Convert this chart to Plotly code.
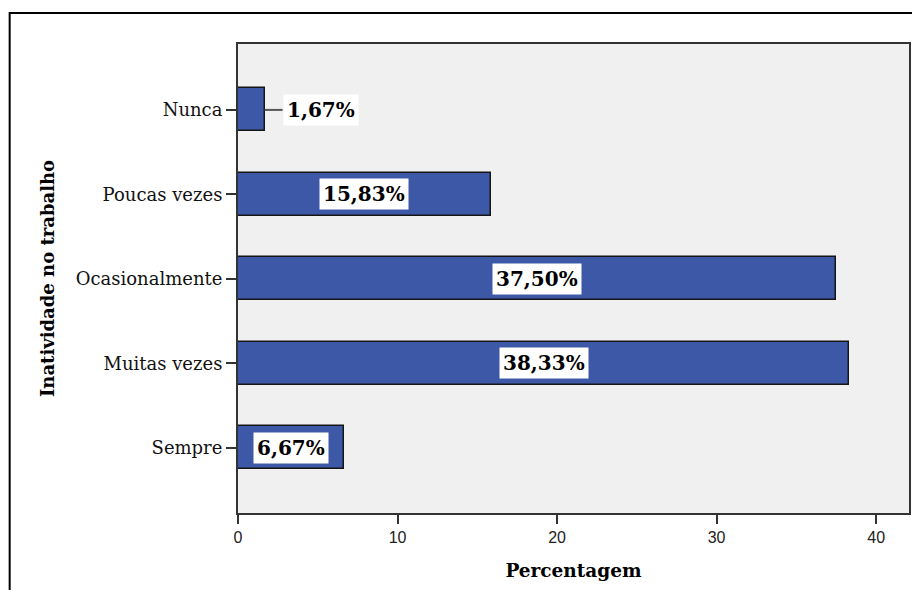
import plotly.graph_objects as go

# Frequência de inatividade no trabalho (percentagem de respondentes)
categorias = ["Nunca", "Poucas vezes", "Ocasionalmente", "Muitas vezes", "Sempre"]
percentagens = [1.67, 15.83, 37.50, 38.33, 6.67]
rotulos = ["1,67%", "15,83%", "37,50%", "38,33%", "6,67%"]
x_ticks = [0, 10, 20, 30, 40]

posicoes = list(range(len(categorias)))

SERIF = "DejaVu Serif, serif"
SANS = "Liberation Sans, Arial, sans-serif"

fig = go.Figure()
fig.add_trace(go.Bar(
    x=percentagens,
    y=posicoes,
    orientation="h",
    width=0.51,
    marker=dict(color="#3E58A8", line=dict(color="#151515", width=1.5)),
    hoverinfo="skip",
    showlegend=False,
))

# Rótulos de valor: centrados na barra, ou fora dela quando a barra é curta
label_font = dict(family=SERIF, size=20, color="#000000", weight="bold")
annotations = []
shapes = []
for pos, val, txt in zip(posicoes, percentagens, rotulos):
    if val < 4:
        annotations.append(dict(
            x=val, y=pos, xref="x", yref="y", text=txt, showarrow=False,
            xanchor="left", xshift=18, font=label_font,
            bgcolor="#FFFFFF", borderpad=3,
        ))
        shapes.append(dict(
            type="line", xref="x", yref="y", x0=val, x1=val + 18 / 16.0,
            y0=pos, y1=pos, line=dict(color="#555555", width=2),
        ))
    else:
        annotations.append(dict(
            x=val / 2, y=pos, xref="x", yref="y", text=txt, showarrow=False,
            xanchor="center", font=label_font,
            bgcolor="#FFFFFF", borderpad=3,
        ))

# Moldura exterior do gráfico
shapes.append(dict(
    type="rect", xref="paper", yref="paper",
    x0=-0.3403, x1=1.05, y0=-0.25, y1=1.0661,
    line=dict(color="#000000", width=2), fillcolor="rgba(0,0,0,0)", layer="below",
))

fig.update_layout(
    width=912, height=590,
    margin=dict(l=238, r=1, t=44, b=77),
    paper_bgcolor="#FFFFFF",
    plot_bgcolor="#F0F0F0",
    bargap=0,
    annotations=annotations,
    shapes=shapes,
    xaxis=dict(
        range=[0, 42.06],
        tickvals=x_ticks,
        ticktext=[str(v) for v in x_ticks],
        ticks="outside", ticklen=9, tickwidth=2, tickcolor="#333333",
        showgrid=False, zeroline=False,
        showline=True, linecolor="#333333", linewidth=2, mirror=True,
        tickfont=dict(family=SANS, size=16, color="#222222"),
        title=dict(text="Percentagem", standoff=19,
                   font=dict(family=SERIF, size=18.5, color="#000000", weight="bold")),
        fixedrange=True,
    ),
    yaxis=dict(
        range=[4.77, -0.78],
        tickvals=posicoes,
        ticktext=categorias,
        ticks="outside", ticklen=10, tickwidth=2, tickcolor="#333333",
        showgrid=False, zeroline=False,
        showline=True, linecolor="#333333", linewidth=2, mirror=True,
        tickfont=dict(family=SERIF, size=18, color="#111111"),
        title=dict(text="Inatividade no trabalho", standoff=16,
                   font=dict(family=SERIF, size=18, color="#000000", weight="bold")),
        fixedrange=True,
    ),
)

fig.write_html("out.html")
